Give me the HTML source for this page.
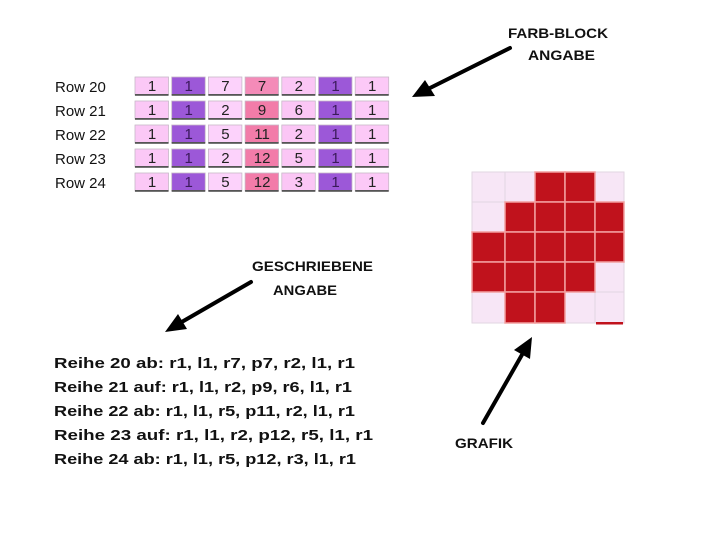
<!DOCTYPE html>
<html>
<head>
<meta charset="utf-8">
<style>
html,body{margin:0;padding:0;background:#fff;}
svg{display:block;}
</style>
</head>
<body>
<svg width="720" height="540" viewBox="0 0 720 540" xmlns="http://www.w3.org/2000/svg">
<rect x="0" y="0" width="720" height="540" fill="#ffffff"/>

<!-- Row labels -->
<g font-family="Liberation Sans, Arial, sans-serif" font-size="15" fill="#111">
<text x="55" y="92">Row 20</text>
<text x="55" y="116">Row 21</text>
<text x="55" y="140">Row 22</text>
<text x="55" y="164">Row 23</text>
<text x="55" y="188">Row 24</text>
</g>

<!-- Color block cells -->
<g id="cells" font-family="Liberation Sans, Arial, sans-serif" font-size="15" fill="#222" text-anchor="middle">
</g>

<!-- Grafik grid -->
<g id="grafik"></g>

<!-- Instruction text -->
<g font-family="Liberation Sans, Arial, sans-serif" font-size="15" font-weight="bold" fill="#111">
<text x="54" y="368" textLength="301" lengthAdjust="spacingAndGlyphs">Reihe 20 ab: r1, l1, r7, p7, r2, l1, r1</text>
<text x="54" y="392" textLength="298" lengthAdjust="spacingAndGlyphs">Reihe 21 auf: r1, l1, r2, p9, r6, l1, r1</text>
<text x="54" y="416" textLength="301" lengthAdjust="spacingAndGlyphs">Reihe 22 ab: r1, l1, r5, p11, r2, l1, r1</text>
<text x="54" y="440" textLength="319" lengthAdjust="spacingAndGlyphs">Reihe 23 auf: r1, l1, r2, p12, r5, l1, r1</text>
<text x="54" y="464" textLength="302" lengthAdjust="spacingAndGlyphs">Reihe 24 ab: r1, l1, r5, p12, r3, l1, r1</text>
</g>

<!-- Labels -->
<g font-family="Liberation Sans, Arial, sans-serif" font-size="14" font-weight="bold" fill="#111">
<text x="508" y="38" textLength="100" lengthAdjust="spacingAndGlyphs">FARB-BLOCK</text>
<text x="528" y="60" textLength="67" lengthAdjust="spacingAndGlyphs">ANGABE</text>
<text x="252" y="271" textLength="121" lengthAdjust="spacingAndGlyphs">GESCHRIEBENE</text>
<text x="273" y="295" textLength="64" lengthAdjust="spacingAndGlyphs">ANGABE</text>
<text x="455" y="448" textLength="58" lengthAdjust="spacingAndGlyphs">GRAFIK</text>
</g>

<!-- Arrows -->
<g stroke="#000" stroke-width="4" stroke-linecap="round">
<line x1="510" y1="48" x2="428" y2="89"/>
<line x1="251" y1="282" x2="180" y2="323"/>
<line x1="483" y1="423" x2="523" y2="353"/>
</g>
<g fill="#000">
<polygon points="412,97 435,96 425,80"/>
<polygon points="165,332 187,329 178,314"/>
<polygon points="532,337 530,359 514,350"/>
</g>

<script>
(function(){
var ns="http://www.w3.org/2000/svg";
var cells=document.getElementById("cells");
var data=[["1","1","7","7","2","1","1"],["1","1","2","9","6","1","1"],["1","1","5","11","2","1","1"],["1","1","2","12","5","1","1"],["1","1","5","12","3","1","1"]];
var colors=["#fbc8f6","#9c58d8","#fcd2fb","#f27ca9","#fbc6f5","#9c58d8","#fcc9f7"];
for(var r=0;r<5;r++){
 for(var c=0;c<7;c++){
  var x=135+c*36.7, y=77+r*24;
  var fill=colors[c];
  if(r==0&&c==3) fill="#f48bb8";
  var rc=document.createElementNS(ns,"rect");
  rc.setAttribute("x",x);rc.setAttribute("y",y);rc.setAttribute("width",33.5);rc.setAttribute("height",18);
  rc.setAttribute("fill",fill);rc.setAttribute("stroke","#c8b8c8");rc.setAttribute("stroke-width","0.8");
  cells.appendChild(rc);
  var bl=document.createElementNS(ns,"rect");
  bl.setAttribute("x",x);bl.setAttribute("y",y+17);bl.setAttribute("width",33.5);bl.setAttribute("height",1.8);
  bl.setAttribute("fill","#555");
  cells.appendChild(bl);
  var t=document.createElementNS(ns,"text");
  t.setAttribute("x",x+17);t.setAttribute("y",y+14);
  t.setAttribute("fill",(c==1||c==5)?"#3a1a5a":"#222");
  t.textContent=data[r][c];
  cells.appendChild(t);
 }
}
var g=document.getElementById("grafik");
var xs=[472,505,535,565,595,624];
var ys=[172,202,232,262,292,323];
var pat=[[0,0,1,1,0],[0,1,1,1,1],[1,1,1,1,1],[1,1,1,1,0],[0,1,1,0,0]];
function rect(x,y,w,h,f,s,sw){var e=document.createElementNS(ns,"rect");e.setAttribute("x",x);e.setAttribute("y",y);e.setAttribute("width",w);e.setAttribute("height",h);e.setAttribute("fill",f);if(s){e.setAttribute("stroke",s);e.setAttribute("stroke-width",sw);}g.appendChild(e);}
for(var r=0;r<5;r++)for(var c=0;c<5;c++){ if(!pat[r][c]) rect(xs[c],ys[r],xs[c+1]-xs[c],ys[r+1]-ys[r],"#f7e6f6","#e2d6e2",1);}
for(var r=0;r<5;r++)for(var c=0;c<5;c++){ if(pat[r][c]) rect(xs[c],ys[r],xs[c+1]-xs[c],ys[r+1]-ys[r],"#c0121c","#f2a0a0",1.5);}
rect(596,322,27,2.5,"#c0121c");
})();
</script>
</svg>
</body>
</html>
